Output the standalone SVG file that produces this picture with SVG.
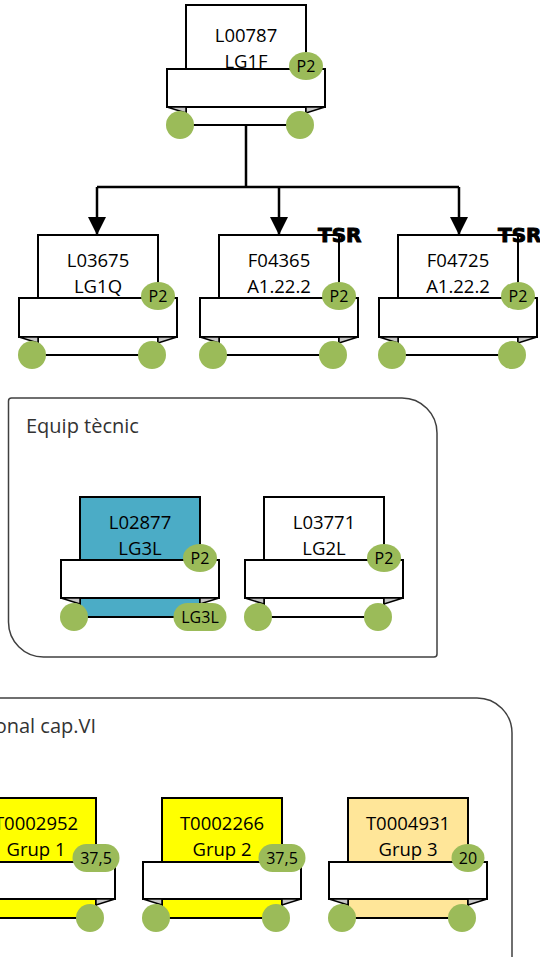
<svg xmlns="http://www.w3.org/2000/svg" width="540" height="957" viewBox="0 0 540 957">
<style>
.card{stroke:#000;stroke-width:2}
.white{fill:#fff}
.teal{fill:#4BACC6}
.yellow{fill:#FFFF00}
.peach{fill:#FFE699}
.banner{fill:#fff;stroke:#000;stroke-width:2}
.fold{fill:#c8c8c8;stroke:#000;stroke-width:1.5;stroke-linejoin:miter}
.dot{fill:#9BBB59}
.lbl{font-family:"Open Sans","Liberation Sans",sans-serif;font-size:18.5px;fill:#000;text-anchor:middle}
.bdg{font-family:"Open Sans","Liberation Sans",sans-serif;font-size:16px;fill:#000;text-anchor:middle}
.tsr{font-family:"DejaVu Sans","Liberation Sans",sans-serif;font-size:20px;font-weight:bold;fill:#000;stroke:#000;stroke-width:1}
.grp{fill:#fff;stroke:#404040;stroke-width:1.5}
.grplbl{font-family:"Open Sans","Liberation Sans",sans-serif;font-size:20px;fill:#333}
.conn{fill:none;stroke:#000;stroke-width:2.5}
</style>
<defs>
<marker id="arr" markerUnits="userSpaceOnUse" markerWidth="18" markerHeight="18" viewBox="0 0 18 18" refX="18" refY="9" orient="auto">
<path d="M0,0 L18,9 L0,18 Z" fill="#000"/>
</marker>
</defs>
<rect x="0" y="0" width="540" height="957" fill="#fff"/>

<g id="group-equip">
<path class="grp" d="M11.5 398 H402 A35 35 0 0 1 437 433 V654 A3 3 0 0 1 434 657 H43.5 A35 35 0 0 1 8.5 622 V401 A3 3 0 0 1 11.5 398 Z"/>
<text class="grplbl" x="26" y="433">Equip tècnic</text>
</g>
<g id="group-cap6">
<path class="grp" d="M-10 698 H477 A35 35 0 0 1 512 733 V975 H-10 Z"/>
<text class="grplbl" x="96" y="733" text-anchor="end">onal cap.VI</text>
</g>

<g id="connectors">
<path class="conn" d="M246 125 V187 M97 187 H459"/>
<path class="conn" d="M97 187 V235" marker-end="url(#arr)"/>
<path class="conn" d="M279 187 V235" marker-end="url(#arr)"/>
<path class="conn" d="M459 187 V235" marker-end="url(#arr)"/>
</g>

<g id="n-L00787" transform="translate(186,5)">
<rect class="card white" x="0" y="0" width="120" height="120"/>
<rect class="banner" x="-19" y="64" width="158" height="38"/>
<polygon class="fold" points="-19,102 0,102 0,108"/>
<polygon class="fold" points="120,102 139,102 120,108"/>
<circle class="dot" cx="-6" cy="120" r="14"/>
<circle class="dot" cx="114" cy="120" r="14"/>
<ellipse class="dot" cx="120" cy="61" rx="17" ry="14"/>
<text class="bdg" x="120" y="66.5">P2</text>
<text class="lbl" x="60" y="37">L00787</text>
<text class="lbl" x="60" y="63">LG1F</text>
</g>

<g id="n-L03675" transform="translate(38,235)">
<rect class="card white" x="0" y="0" width="120" height="120"/>
<rect class="banner" x="-19" y="63" width="158" height="39"/>
<polygon class="fold" points="-19,102 0,102 0,108"/>
<polygon class="fold" points="120,102 139,102 120,108"/>
<circle class="dot" cx="-6" cy="120" r="14"/>
<circle class="dot" cx="114" cy="120" r="14"/>
<ellipse class="dot" cx="120" cy="61" rx="17" ry="14"/>
<text class="bdg" x="120" y="66.5">P2</text>
<text class="lbl" x="60" y="32">L03675</text>
<text class="lbl" x="60" y="58">LG1Q</text>
</g>

<g id="n-F04365" transform="translate(219,235)">
<rect class="card white" x="0" y="0" width="120" height="120"/>
<rect class="banner" x="-19" y="63" width="158" height="39"/>
<polygon class="fold" points="-19,102 0,102 0,108"/>
<polygon class="fold" points="120,102 139,102 120,108"/>
<circle class="dot" cx="-6" cy="120" r="14"/>
<circle class="dot" cx="114" cy="120" r="14"/>
<ellipse class="dot" cx="120" cy="61" rx="17" ry="14"/>
<text class="bdg" x="120" y="66.5">P2</text>
<text class="lbl" x="60" y="32">F04365</text>
<text class="lbl" x="60" y="58">A1.22.2</text>
<text class="tsr" x="99" y="7">TSR</text>
</g>

<g id="n-F04725" transform="translate(398,235)">
<rect class="card white" x="0" y="0" width="120" height="120"/>
<rect class="banner" x="-19" y="63" width="158" height="39"/>
<polygon class="fold" points="-19,102 0,102 0,108"/>
<polygon class="fold" points="120,102 139,102 120,108"/>
<circle class="dot" cx="-6" cy="120" r="14"/>
<circle class="dot" cx="114" cy="120" r="14"/>
<ellipse class="dot" cx="120" cy="61" rx="17" ry="14"/>
<text class="bdg" x="120" y="66.5">P2</text>
<text class="lbl" x="60" y="32">F04725</text>
<text class="lbl" x="60" y="58">A1.22.2</text>
<text class="tsr" x="100" y="7">TSR</text>
</g>

<g id="n-L02877" transform="translate(80,497)">
<rect class="card teal" x="0" y="0" width="120" height="120"/>
<rect class="banner" x="-19" y="63" width="158" height="38"/>
<polygon class="fold" points="-19,101 0,101 0,107"/>
<polygon class="fold" points="120,101 139,101 120,107"/>
<circle class="dot" cx="-6" cy="120" r="14"/>
<rect class="dot" x="93.5" y="106" width="53" height="28" rx="14"/>
<text class="bdg" x="120" y="125.5">LG3L</text>
<ellipse class="dot" cx="120" cy="61" rx="17" ry="14"/>
<text class="bdg" x="120" y="66.5">P2</text>
<text class="lbl" x="60" y="32">L02877</text>
<text class="lbl" x="60" y="58">LG3L</text>
</g>

<g id="n-L03771" transform="translate(264,497)">
<rect class="card white" x="0" y="0" width="120" height="120"/>
<rect class="banner" x="-19" y="63" width="158" height="38"/>
<polygon class="fold" points="-19,101 0,101 0,107"/>
<polygon class="fold" points="120,101 139,101 120,107"/>
<circle class="dot" cx="-6" cy="120" r="14"/>
<circle class="dot" cx="114" cy="120" r="14"/>
<ellipse class="dot" cx="120" cy="61" rx="17" ry="14"/>
<text class="bdg" x="120" y="66.5">P2</text>
<text class="lbl" x="60" y="32">L03771</text>
<text class="lbl" x="60" y="58">LG2L</text>
</g>

<g id="n-T0002952" transform="translate(-24,798)">
<rect class="card yellow" x="0" y="0" width="120" height="120"/>
<rect class="banner" x="-19" y="64" width="158" height="37"/>
<polygon class="fold" points="-19,101 0,101 0,107"/>
<polygon class="fold" points="120,101 139,101 120,107"/>
<circle class="dot" cx="-6" cy="120" r="14"/>
<circle class="dot" cx="114" cy="120" r="14"/>
<rect class="dot" x="96.5" y="46" width="47" height="28" rx="14"/>
<text class="bdg" x="120" y="65.5">37,5</text>
<text class="lbl" x="60" y="32">T0002952</text>
<text class="lbl" x="60" y="58">Grup 1</text>
</g>

<g id="n-T0002266" transform="translate(162,798)">
<rect class="card yellow" x="0" y="0" width="120" height="120"/>
<rect class="banner" x="-19" y="64" width="158" height="37"/>
<polygon class="fold" points="-19,101 0,101 0,107"/>
<polygon class="fold" points="120,101 139,101 120,107"/>
<circle class="dot" cx="-6" cy="120" r="14"/>
<circle class="dot" cx="114" cy="120" r="14"/>
<rect class="dot" x="96.5" y="46" width="47" height="28" rx="14"/>
<text class="bdg" x="120" y="65.5">37,5</text>
<text class="lbl" x="60" y="32">T0002266</text>
<text class="lbl" x="60" y="58">Grup 2</text>
</g>

<g id="n-T0004931" transform="translate(348,798)">
<rect class="card peach" x="0" y="0" width="120" height="120"/>
<rect class="banner" x="-19" y="64" width="158" height="37"/>
<polygon class="fold" points="-19,101 0,101 0,107"/>
<polygon class="fold" points="120,101 139,101 120,107"/>
<circle class="dot" cx="-6" cy="120" r="14"/>
<circle class="dot" cx="114" cy="120" r="14"/>
<ellipse class="dot" cx="120" cy="60" rx="16.5" ry="14"/>
<text class="bdg" x="120" y="65.5">20</text>
<text class="lbl" x="60" y="32">T0004931</text>
<text class="lbl" x="60" y="58">Grup 3</text>
</g>
</svg>
